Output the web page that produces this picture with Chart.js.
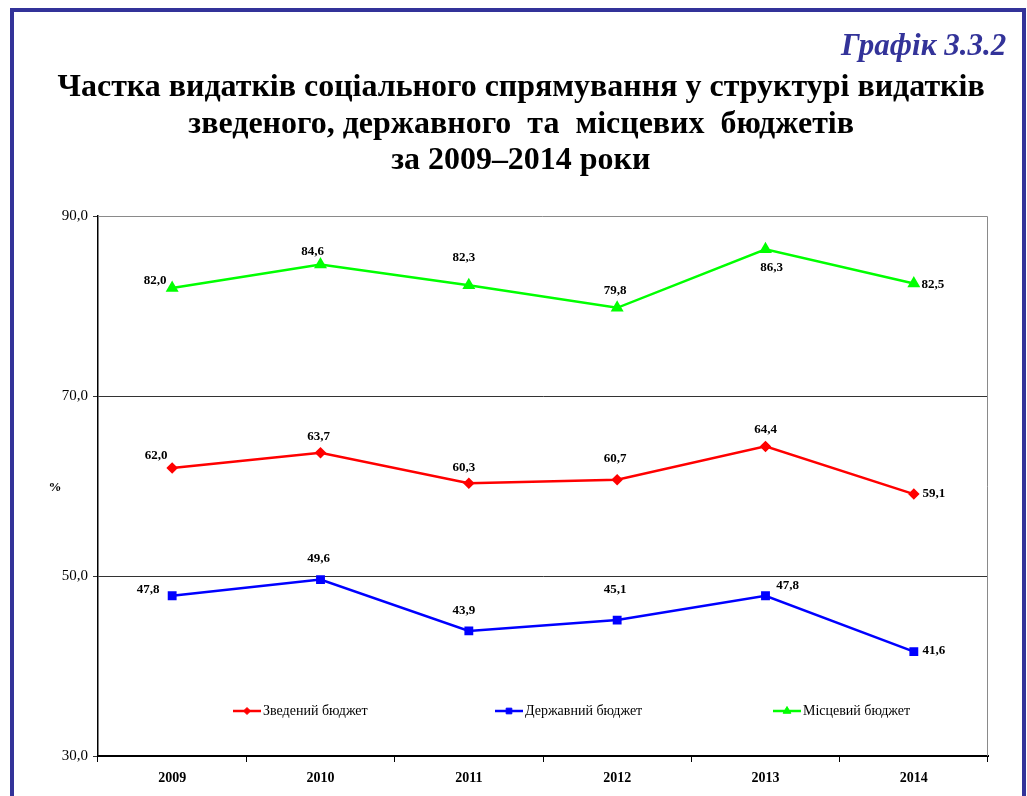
<!DOCTYPE html>
<html>
<head>
<meta charset="utf-8">
<script src="https://cdn.jsdelivr.net/npm/chart.js@4.4.1/dist/chart.umd.min.js"></script>
<style>
  html, body { margin: 0; padding: 0; background: #fff; overflow: hidden; }
  body { width: 1027px; height: 796px; position: relative; font-family: "Liberation Serif", serif; }
  #frame { position: absolute; left: 10px; top: 8px; width: 1008px; height: 900px; border: 4px solid #333399; border-bottom: none; box-sizing: content-box; }
  #wrap { position: absolute; left: 0; top: 0; width: 1027px; height: 796px; }
  .t { position: absolute; white-space: pre; font-family: "Liberation Serif", serif; font-weight: bold; color: #000; transform-origin: center center; }
  #num { position: absolute; font-family: "Liberation Serif", serif; font-weight: bold; font-style: italic; font-size: 31px; color: #333399; white-space: pre; }
</style>
</head>
<body>
<div id="frame"></div>
<div id="wrap"><canvas id="c" width="1027" height="796"></canvas></div>
<div id="num">Графік 3.3.2</div>
<div class="t" id="l1">Частка видатків соціального спрямування у структурі видатків</div>
<div class="t" id="l2">зведеного, державного  та  місцевих  бюджетів</div>
<div class="t" id="l3">за 2009–2014 роки</div>
<script>
// ---- data ----
const years = ['2009', '2010', '2011', '2012', '2013', '2014'];
const seriesNames = ['Зведений бюджет', 'Державний бюджет', 'Місцевий бюджет'];
const consolidated = [62.0, 63.7, 60.3, 60.7, 64.4, 59.1];
const stateBudget = [47.8, 49.6, 43.9, 45.1, 47.8, 41.6];
const localBudgets = [82.0, 84.6, 82.3, 79.8, 86.3, 82.5];
const yTicks = [30, 50, 70, 90];
const yAxisLabel = '%';

// ---- title layout ----
(function () {
  const lines = [['l1', 85], ['l2', 122], ['l3', 158]];
  const size = 32;
  let scale = 1;
  lines.forEach(([id, cy], i) => {
    const el = document.getElementById(id);
    el.style.fontSize = size + 'px';
    const w = el.offsetWidth;
    if (i === 0) scale = 927 / w;
    el.style.left = (521 - w / 2) + 'px';
    el.style.top = (cy - el.offsetHeight / 2) + 'px';
    el.style.transform = 'scaleX(' + scale + ')';
  });
  const num = document.getElementById('num');
  const w = num.offsetWidth;
  num.style.left = (1006 - w) + 'px';
  num.style.top = (45 - num.offsetHeight / 2) + 'px';
})();

const fmt = v => v.toFixed(1).replace('.', ',');

const labelPlugin = {
  id: 'customDecor',
  afterDatasetsDraw(chart) {
    const ctx = chart.ctx;
    const ca = chart.chartArea;
    ctx.save();
    // top and right plot borders
    ctx.strokeStyle = '#8a8a8a';
    ctx.lineWidth = 1;
    ctx.beginPath();
    ctx.moveTo(ca.left, ca.top + 0.5);
    ctx.lineTo(ca.right - 0.5, ca.top + 0.5);
    ctx.lineTo(ca.right - 0.5, ca.bottom);
    ctx.stroke();

    // data labels
    ctx.font = 'bold 13px "Liberation Serif"';
    ctx.fillStyle = '#000';
    ctx.textAlign = 'center';
    ctx.textBaseline = 'middle';
    chart.data.datasets.forEach((ds, di) => {
      const meta = chart.getDatasetMeta(di);
      meta.data.forEach((pt, i) => {
        const off = ds.labelOffsets[i];
        ctx.fillText(fmt(ds.data[i]), pt.x + off[0], pt.y + off[1]);
      });
    });

    // y-axis title
    ctx.font = 'bold 13px "Liberation Serif"';
    ctx.fillText(yAxisLabel, 55, 488);

    // legend inside plot
    const legendX = [135, 397, 675];
    const ly = ca.bottom - 45;
    chart.data.datasets.forEach((ds, di) => {
      const x0 = ca.left + legendX[di];
      ctx.strokeStyle = ds.borderColor;
      ctx.lineWidth = 2.5;
      ctx.beginPath();
      ctx.moveTo(x0, ly);
      ctx.lineTo(x0 + 28, ly);
      ctx.stroke();
      ctx.fillStyle = ds.borderColor;
      ctx.lineWidth = 1;
      Chart.helpers.drawPoint(ctx, {
        pointStyle: ds.pointStyle, radius: ds.pointRadius - 0.5, borderWidth: 1, rotation: 0
      }, x0 + 14, ly);
      ctx.fillStyle = '#000';
      ctx.font = '14px "Liberation Serif"';
      ctx.textAlign = 'left';
      ctx.fillText(ds.label, x0 + 30, ly);
    });
    ctx.restore();
  }
};

new Chart(document.getElementById('c'), {
  type: 'line',
  data: {
    labels: years,
    datasets: [
      {
        label: seriesNames[0], data: consolidated,
        borderColor: '#ff0000', backgroundColor: '#ff0000',
        pointStyle: 'rectRot', pointRadius: 4, borderWidth: 2.5,
        labelOffsets: [[-16, -12], [-2, -16], [-5, -16], [-2, -21], [0, -17], [20, 0]]
      },
      {
        label: seriesNames[1], data: stateBudget,
        borderColor: '#0000ff', backgroundColor: '#0000ff',
        pointStyle: 'rect', pointRadius: 4.5, borderWidth: 2.5,
        labelOffsets: [[-24, -6], [-2, -21], [-5, -20], [-2, -30], [22, -10], [20, -1]]
      },
      {
        label: seriesNames[2], data: localBudgets,
        borderColor: '#00ff00', backgroundColor: '#00ff00',
        pointStyle: 'triangle', pointRadius: 5, borderWidth: 2.5,
        labelOffsets: [[-17, -7], [-8, -13], [-5, -28], [-2, -17], [6, 18], [19, 1]]
      }
    ]
  },
  options: {
    responsive: false,
    animation: false,
    layout: { padding: { top: 216, right: 39, bottom: 0, left: 0 } },
    plugins: { legend: { display: false }, tooltip: { enabled: false }, title: { display: false } },
    elements: { line: { tension: 0 }, point: { borderWidth: 1 } },
    scales: {
      x: {
        type: 'category',
        offset: true,
        afterFit(s) { s.height = 40; },
        grid: { offset: true, drawOnChartArea: false, tickLength: 6, color: '#000', tickColor: '#000' },
        border: { color: '#000', width: 2 },
        ticks: { color: '#000', padding: 8, font: { family: 'Liberation Serif', size: 14, weight: 'bold' } }
      },
      y: {
        min: 30, max: 90,
        afterFit(s) { s.width = 98; },
        afterBuildTicks(s) { s.ticks = yTicks.map(v => ({ value: v })); },
        grid: {
          tickLength: 5,
          color: ctx => (ctx.tick && (ctx.tick.value === 50 || ctx.tick.value === 70)) ? '#333' : 'rgba(0,0,0,0)',
          tickColor: '#333',
          lineWidth: 1
        },
        border: { color: '#000', width: 1.5 },
        ticks: {
          color: '#000', padding: 5,
          font: { family: 'Liberation Serif', size: 15 },
          callback: v => fmt(v)
        }
      }
    }
  },
  plugins: [labelPlugin]
});
</script>
</body>
</html>
